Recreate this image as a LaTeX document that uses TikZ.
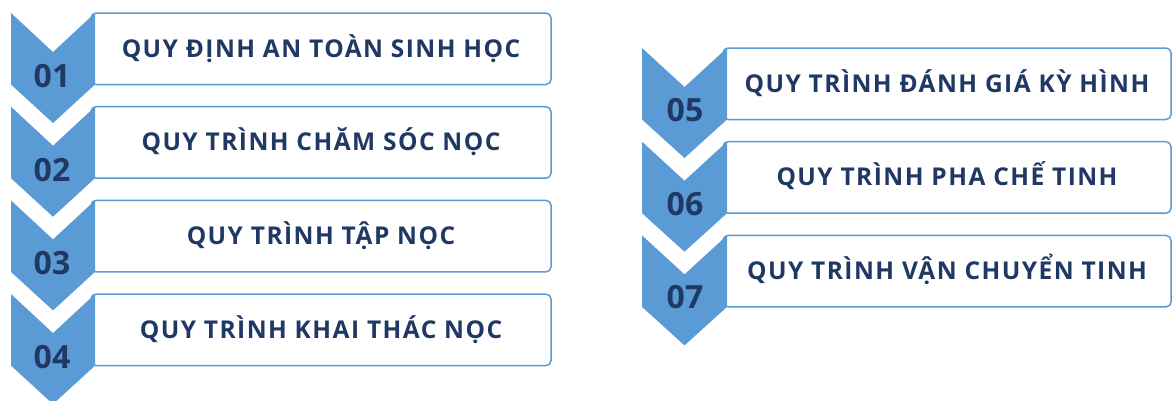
\documentclass[tikz,border=0pt]{standalone}
\usepackage{fontspec}
\usepackage{tikz}
\setmainfont{Open Sans}
\newfontfamily\labelfont[LetterSpace=6]{Open Sans}
\newfontfamily\numfont{Open Sans}
\definecolor{stepblue}{RGB}{91,155,213}
\definecolor{stepnavy}{RGB}{31,56,100}

\tikzset{
  chevron/.style={fill=stepblue,draw=none},
  stepbox/.style={rectangle,draw=stepblue,line width=1.5pt,rounded corners=5pt,fill=white,
    minimum height=71.5pt,inner sep=0pt,text=stepnavy,text height=17pt,text depth=0pt,
    font=\labelfont\bfseries\fontsize{24.5}{28}\selectfont},
  stepnum/.style={inner sep=0pt,text=stepnavy,font=\numfont\bfseries\fontsize{32}{35}\selectfont}
}

\begin{document}
\begin{tikzpicture}[x=1pt,y=-1pt]
\useasboundingbox (0,0) rectangle (1173,400);
% left column
\node[stepbox,minimum width=460pt] (b1) at (321,48.75) {QUY ĐỊNH AN TOÀN SINH HỌC};
\node[stepbox,minimum width=460pt] (b2) at (321,142.45) {QUY TRÌNH CHĂM SÓC NỌC};
\node[stepbox,minimum width=460pt] (b3) at (321,236.15) {QUY TRÌNH TẬP NỌC};
\node[stepbox,minimum width=460pt] (b4) at (321,329.85) {QUY TRÌNH KHAI THÁC NỌC};
\fill[chevron] (11,13) -- ++(42,39) -- ++(42,-39) -- ++(0,71.5) -- ++(-42,38.5) -- ++(-42,-38.5) -- cycle;
\fill[chevron] (11,106.7) -- ++(42,39) -- ++(42,-39) -- ++(0,71.5) -- ++(-42,38.5) -- ++(-42,-38.5) -- cycle;
\fill[chevron] (11,200.4) -- ++(42,39) -- ++(42,-39) -- ++(0,71.5) -- ++(-42,38.5) -- ++(-42,-38.5) -- cycle;
\fill[chevron] (11,294.1) -- ++(42,39) -- ++(42,-39) -- ++(0,71.5) -- ++(-42,38.5) -- ++(-42,-38.5) -- cycle;
\node[stepnum] (n1) at (52,76) {01};
\node[stepnum] (n2) at (52,169.7) {02};
\node[stepnum] (n3) at (52,263.4) {03};
\node[stepnum] (n4) at (52,357.1) {04};
% right column
\node[stepbox,minimum width=448pt] (b5) at (947,83.75) {QUY TRÌNH ĐÁNH GIÁ KỲ HÌNH};
\node[stepbox,minimum width=448pt] (b6) at (947,177.45) {QUY TRÌNH PHA CHẾ TINH};
\node[stepbox,minimum width=448pt] (b7) at (947,271.15) {QUY TRÌNH VẬN CHUYỂN TINH};
\fill[chevron] (642,48) -- ++(42.5,39) -- ++(42.5,-39) -- ++(0,71.5) -- ++(-42.5,38.5) -- ++(-42.5,-38.5) -- cycle;
\fill[chevron] (642,141.7) -- ++(42.5,39) -- ++(42.5,-39) -- ++(0,71.5) -- ++(-42.5,38.5) -- ++(-42.5,-38.5) -- cycle;
\fill[chevron] (642,235.4) -- ++(42.5,39) -- ++(42.5,-39) -- ++(0,71.5) -- ++(-42.5,38.5) -- ++(-42.5,-38.5) -- cycle;
\node[stepnum] (n5) at (685,110) {05};
\node[stepnum] (n6) at (685,203.7) {06};
\node[stepnum] (n7) at (685,297.4) {07};
\end{tikzpicture}
\end{document}
